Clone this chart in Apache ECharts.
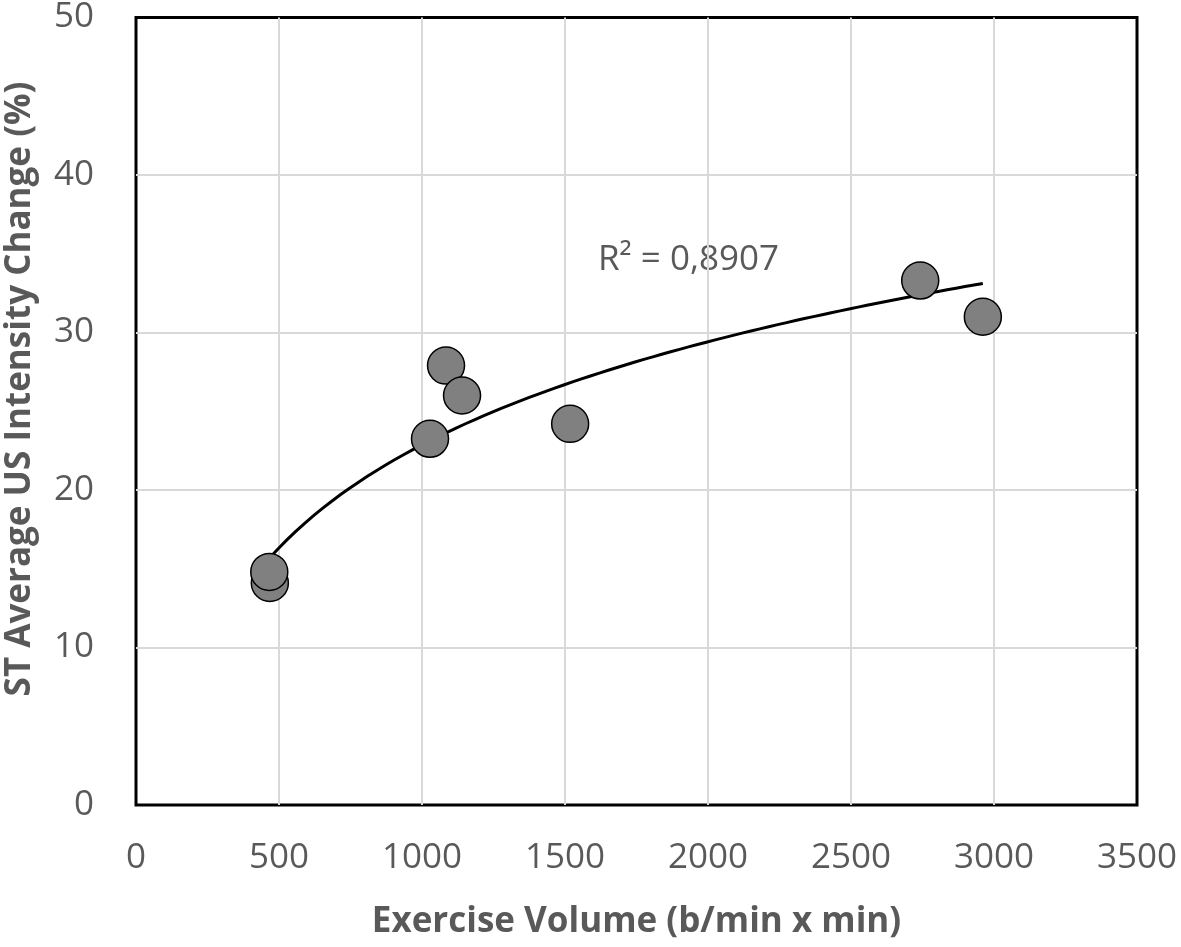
<!DOCTYPE html>
<html>
<head>
<meta charset="utf-8">
<script src="https://cdn.jsdelivr.net/npm/echarts@6/dist/echarts.min.js"></script>
<style>
html,body{margin:0;padding:0;background:#fff;}
#c{width:1181px;height:947px;}
</style>
</head>
<body>
<div id="c"></div>
<script>
// Data
const exerciseVolume = [468, 466, 1028, 1084, 1140, 1518, 2742, 2961];
const intensityChange = [14.1, 14.8, 23.25, 27.9, 26.0, 24.2, 33.3, 31.0];
const xTicks = [0, 500, 1000, 1500, 2000, 2500, 3000, 3500];
const yTicks = [0, 10, 20, 30, 40, 50];
const r2Label = 'R² = 0,8907';
const xTitle = 'Exercise Volume (b/min x min)';
const yTitle = 'ST Average US Intensity Change (%)';

// Logarithmic least-squares trendline fitted to the data (as the spreadsheet does)
const lx = exerciseVolume.map(Math.log);
const n = lx.length;
const mx = lx.reduce((a, b) => a + b, 0) / n;
const my = intensityChange.reduce((a, b) => a + b, 0) / n;
let sxy = 0, sxx = 0;
for (let i = 0; i < n; i++) { sxy += (lx[i] - mx) * (intensityChange[i] - my); sxx += (lx[i] - mx) ** 2; }
const slope = sxy / sxx, icpt = my - slope * mx;
const xMin = Math.min(...exerciseVolume), xMax = Math.max(...exerciseVolume);
const trend = [];
for (let k = 0; k <= 80; k++) {
  const x = xMin + (xMax - xMin) * k / 80;
  trend.push([x, slope * Math.log(x) + icpt]);
}

const pts = exerciseVolume.map((x, i) => [x, intensityChange[i]]);
const grey = '#595959';
const chart = echarts.init(document.getElementById('c'));
chart.setOption({
  animation: false,
  backgroundColor: '#fff',
  grid: { left: 136, right: 44, top: 17, bottom: 142, show: true, borderColor: '#000', borderWidth: 3, backgroundColor: 'transparent' },
  xAxis: {
    type: 'value', min: xTicks[0], max: xTicks[xTicks.length - 1], interval: 500,
    name: xTitle, nameLocation: 'middle', nameGap: 100,
    nameTextStyle: { color: grey, fontSize: 35, fontWeight: 'bold', fontFamily: 'Open Sans' },
    axisLine: { show: false }, axisTick: { show: false },
    axisLabel: { color: grey, fontSize: 35, fontFamily: 'Open Sans', margin: 36, formatter: v => String(v) },
    splitLine: { show: true, showMinLine: false, showMaxLine: false, lineStyle: { color: '#d9d9d9', width: 2 } }
  },
  yAxis: {
    type: 'value', min: yTicks[0], max: yTicks[yTicks.length - 1], interval: 10,
    axisLine: { show: false }, axisTick: { show: false },
    axisLabel: { color: grey, fontSize: 35, fontFamily: 'Open Sans', margin: 42, formatter: v => String(v) },
    splitLine: { show: true, showMinLine: false, showMaxLine: false, lineStyle: { color: '#d9d9d9', width: 2 } }
  },
  series: [
    {
      type: 'line', data: trend, showSymbol: false, smooth: false, z: 3,
      lineStyle: { color: '#000', width: 3 }
    },
    {
      type: 'scatter', data: pts, symbolSize: 37, z: 4,
      itemStyle: { color: '#808080', borderColor: '#000', borderWidth: 1.5, opacity: 1 }
    }
  ],
  graphic: [
    {
      type: 'text', left: 598, top: 243,
      style: { text: r2Label, fill: grey, fontSize: 35, fontFamily: 'Open Sans' }
    },
    {
      type: 'text', x: 20, y: 389, rotation: Math.PI / 2,
      style: { text: yTitle, fill: grey, fontSize: 35, fontWeight: 'bold', fontFamily: 'Open Sans', align: 'center', verticalAlign: 'middle' }
    }
  ]
});
</script>
</body>
</html>
